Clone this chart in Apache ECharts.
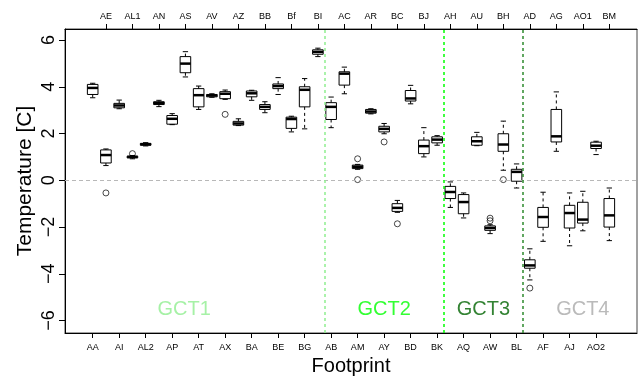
<!DOCTYPE html>
<html>
<head>
<meta charset="utf-8">
<script src="https://cdn.jsdelivr.net/npm/echarts@6/dist/echarts.min.js"></script>
<style>
  html, body { margin: 0; padding: 0; background: #fff; }
  #chart { width: 639px; height: 382px; }
</style>
</head>
<body>
<div id="chart"></div>
<script>
// footprints, in plotting order (odd ones labelled below, even ones above)
var footprints = ['AA','AE','AI','AL1','AL2','AN','AP','AS','AT','AV','AX','AZ','BA','BB','BE','Bf','BG','BI',
  'AB','AC','AM','AR','AY','BC','BD','BJ','BK',
  'AH','AQ','AU','AW','BH','BL',
  'AD','AF','AG','AJ','AO1','AO2','BM'];

// box statistics (temperature, C)
var whiskerLow  = [3.53,0.63,3.06,0.92,1.47,3.15,2.38,4.42,3.03,3.55,3.46,2.34,3.42,2.89,3.67,2.07,2.20,5.29,
  2.25,3.70,0.47,2.84,1.99,-1.37,3.27,1.00,1.50,
  -1.16,-1.61,1.48,-2.28,0.43,-0.33,
  -4.26,-2.61,1.24,-2.80,-2.16,1.10,-2.58];
var quart1      = [3.67,0.74,3.10,0.96,1.50,3.24,2.40,4.60,3.14,3.57,3.49,2.36,3.57,3.03,3.92,2.22,3.14,5.39,
  2.60,4.07,0.50,2.87,2.07,-1.33,3.39,1.14,1.60,
  -0.78,-1.43,1.50,-2.14,1.24,-0.04,
  -3.76,-2.01,1.64,-2.04,-1.83,1.36,-2.00];
var medians     = [3.95,1.08,3.20,1.00,1.54,3.30,2.63,4.99,3.64,3.63,3.70,2.43,3.72,3.14,4.03,2.62,3.87,5.49,
  3.14,4.56,0.58,2.94,2.20,-1.18,3.50,1.46,1.74,
  -0.50,-0.93,1.67,-2.04,1.53,0.36,
  -3.64,-1.57,1.88,-1.40,-1.68,1.48,-1.50];
var quart3      = [4.10,1.30,3.29,1.03,1.58,3.36,2.77,5.29,3.92,3.67,3.79,2.52,3.82,3.24,4.12,2.70,4.00,5.58,
  3.32,4.64,0.65,3.03,2.31,-1.00,3.84,1.72,1.86,
  -0.26,-0.61,1.86,-1.95,1.99,0.47,
  -3.40,-1.16,3.03,-1.07,-0.94,1.63,-0.78];
var whiskerHigh = [4.15,1.34,3.43,1.06,1.61,3.42,2.85,5.50,4.03,3.70,3.86,2.63,3.85,3.36,4.39,2.74,4.35,5.65,
  3.56,4.84,0.68,3.06,2.43,-0.86,4.06,2.25,1.91,
  -0.07,-0.54,2.05,-1.90,2.53,0.70,
  -2.93,-0.51,3.78,-0.54,-0.47,1.67,-0.33];

// outliers: [footprint, value]
var outliers = [['AE',-0.54],['AL1',1.14],['AX',2.82],['AM',0.92],['AM',0.03],['AY',1.64],['BC',-1.86],
  ['AW',-1.62],['AW',-1.73],['BH',0.03],['AD',-4.61]];

// groups
var groupNames  = ['GCT1','GCT2','GCT3','GCT4'];
var groupSizes  = [18, 9, 6, 7];
var groupColors = ['#90EE90','#00FF00','#006400','#A9A9A9'];
var lineColors  = ['#90EE90','#00FF00','#2E8B2E'];
var groupLabelX = [7.9, 23, 30.5, 38];

var yTicks = [-6,-4,-2,0,2,4,6];

var boxData = footprints.map(function (f, i) {
  return [i + 1, whiskerLow[i], quart1[i], medians[i], quart3[i], whiskerHigh[i]];
});
var outlierData = outliers.map(function (o) {
  return [footprints.indexOf(o[0]) + 1, o[1]];
});
var bounds = [];
var acc = 0;
for (var g = 0; g < groupSizes.length - 1; g++) {
  acc += groupSizes[g];
  bounds.push({ xAxis: acc + 0.5, lineStyle: { color: lineColors[g] } });
}
var oddPos = [], evenPos = [];
footprints.forEach(function (f, i) { (i % 2 === 0 ? oddPos : evenPos).push(i + 1); });

var font = "'Liberation Sans', Arial, Helvetica, sans-serif";
var xMin = -1.09, xMax = 42.09;

function xAxisDef(pos, values, margin) {
  return {
    type: 'value', position: pos, min: xMin, max: xMax,
    splitLine: { show: false },
    axisLine: { show: true, onZero: false, lineStyle: { color: '#000', width: 1 } },
    axisTick: { show: true, length: 5, customValues: values, lineStyle: { color: '#000' } },
    axisLabel: {
      show: true, customValues: values, margin: margin,
      fontFamily: font, fontSize: 9, color: '#000',
      formatter: function (v) { return footprints[Math.round(v) - 1] || ''; }
    }
  };
}

var chart = echarts.init(document.getElementById('chart'));
chart.setOption({
  animation: false,
  grid: { left: 65, right: 2, top: 29, bottom: 49, show: true, borderColor: '#444', borderWidth: 1, backgroundColor: 'transparent' },
  xAxis: [
    Object.assign(xAxisDef('bottom', oddPos, 10), {
      name: 'Footprint', nameLocation: 'middle', nameGap: 23, nameMoveOverlap: false,
      nameTextStyle: { fontFamily: font, fontSize: 20, color: '#000' }
    }),
    xAxisDef('top', evenPos, 8)
  ],
  yAxis: {
    type: 'value', min: -6.53, max: 6.47,
    name: 'Temperature [C]', nameLocation: 'middle', nameGap: 29, nameMoveOverlap: false,
    nameTextStyle: { fontFamily: font, fontSize: 21, color: '#000' },
    splitLine: { show: false },
    axisLine: { show: true, onZero: false, lineStyle: { color: '#000' } },
    axisTick: { show: true, length: 6, customValues: yTicks, lineStyle: { color: '#000' } },
    axisLabel: {
      customValues: yTicks, rotate: 90, margin: 7,
      fontFamily: font, fontSize: 18, color: '#000',
      formatter: function (v) { return String(v).replace('-', '\u2212'); }
    }
  },
  series: [
    {
      type: 'custom',
      xAxisIndex: 0,
      data: boxData,
      encode: { x: 0, y: [1, 2, 3, 4, 5] },
      renderItem: function (params, api) {
        var p = api.value(0);
        var lo = api.value(1), a = api.value(2), m = api.value(3), b = api.value(4), hi = api.value(5);
        var c = function (x, y) { return api.coord([x, y]); };
        var tl = c(p - 0.4, b), br = c(p + 0.4, a);
        var mid = c(p, m);
        var pHi = c(p, hi), pLo = c(p, lo), pB = c(p, b), pA = c(p, a);
        var sL = c(p - 0.2, 0)[0], sR = c(p + 0.2, 0)[0];
        var line = function (x1, y1, x2, y2, style) {
          return { type: 'line', shape: { x1: x1, y1: y1, x2: x2, y2: y2 }, style: style };
        };
        var dashed = { stroke: '#000', lineWidth: 1, lineDash: [3, 3] };
        var solid = { stroke: '#000', lineWidth: 1 };
        return {
          type: 'group',
          children: [
            line(pB[0], pB[1], pHi[0], pHi[1], dashed),
            line(pA[0], pA[1], pLo[0], pLo[1], dashed),
            line(sL, pHi[1], sR, pHi[1], solid),
            line(sL, pLo[1], sR, pLo[1], solid),
            { type: 'rect', shape: { x: tl[0], y: tl[1], width: br[0] - tl[0], height: br[1] - tl[1] },
              style: { fill: 'none', stroke: '#000', lineWidth: 1 } },
            line(tl[0], mid[1], br[0], mid[1], { stroke: '#000', lineWidth: 2.5 })
          ]
        };
      },
      z: 3
    },
    {
      type: 'scatter',
      data: outlierData,
      symbol: 'circle',
      symbolSize: 6,
      itemStyle: { color: 'rgba(255,255,255,0)', borderColor: '#000', borderWidth: 0.9 },
      z: 4,
      markLine: {
        silent: true, symbol: ['none', 'none'], label: { show: false },
        lineStyle: { type: [3, 3], width: 1.5 },
        data: [{ yAxis: 0, lineStyle: { color: '#B8B8B8', type: [4, 3], width: 1 } }].concat(bounds)
      }
    },
    {
      type: 'scatter',
      symbolSize: 0,
      silent: true,
      data: groupNames.map(function (n, i) {
        return {
          name: n, value: [groupLabelX[i], -5.52],
          label: { show: true, position: 'inside', formatter: n, color: groupColors[i],
            fontFamily: font, fontSize: 20 }
        };
      })
    }
  ]
});
</script>
</body>
</html>
